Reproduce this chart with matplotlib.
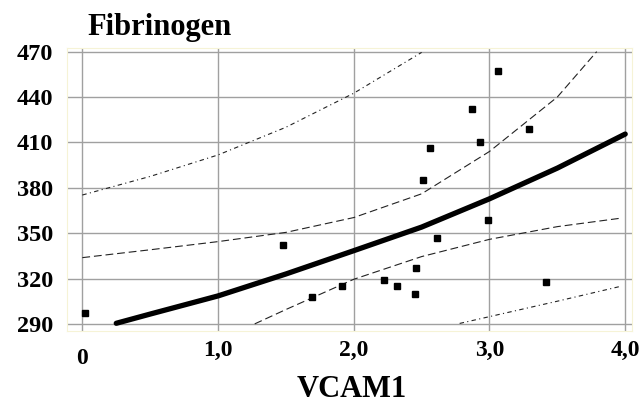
import matplotlib
matplotlib.use("Agg")
import matplotlib.pyplot as plt

# scatter points
vcam1 = [0.02, 1.48, 1.69, 1.91, 2.22, 2.32, 2.45, 2.46, 2.51, 2.56, 2.61,
         2.87, 2.93, 2.99, 3.06, 3.29, 3.42]
fibrinogen = [297, 342, 308, 315, 319, 315, 310, 327, 385, 406, 347,
              432, 410, 359, 457, 419, 318]

# regression curve
fit_x = [0.25, 0.5, 1.0, 1.5, 2.0, 2.5, 3.0, 3.5, 4.0]
fit_y = [290.4, 296.5, 308.5, 323.0, 338.4, 354.0, 372.7, 393.0, 415.5]

# inner band (long dashes)
inner_up_x = [0.0, 0.5, 1.0, 1.5, 2.0, 2.5, 3.0, 3.5, 3.79]
inner_up_y = [333.8, 339.0, 344.4, 350.5, 360.3, 376.0, 404.0, 440.0, 470.0]
inner_lo_x = [1.27, 1.5, 2.0, 2.5, 3.0, 3.5, 3.96]
inner_lo_y = [290.0, 299.5, 319.5, 334.5, 345.9, 354.3, 359.8]

# outer band (dash-dot)
outer_up_x = [0.0, 0.5, 1.0, 1.5, 2.0, 2.5]
outer_up_y = [375.2, 387.5, 401.7, 420.0, 442.5, 469.5]
outer_lo_x = [2.78, 3.0, 3.5, 3.96]
outer_lo_y = [290.3, 294.8, 305.0, 314.7]

xticks = [0, 1, 2, 3, 4]
xtick_labels = ["0", "1,0", "2,0", "3,0", "4,0"]
yticks = [290, 320, 350, 380, 410, 440, 470]

plt.rcParams['font.family'] = ['Liberation Serif', 'DejaVu Serif']
plt.rcParams['font.weight'] = 'bold'

fig = plt.figure(figsize=(6.4, 4.05), dpi=100)
ax = fig.add_axes([67 / 640, 1 - 331 / 405, 565 / 640, 283 / 405])
ax.set_xlim(-0.113, 4.05)
ax.set_ylim(285.3, 472.4)

ax.set_xticks(xticks)
ax.set_xticklabels(xtick_labels, fontsize=17, fontweight='bold')
ax.set_yticks(yticks)
ax.set_yticklabels([str(v) for v in yticks], fontsize=17.5, fontweight='bold')
ax.tick_params(axis='both', length=0)
ax.tick_params(axis='x', pad=6.5)
ax.tick_params(axis='y', pad=10)
ax.xaxis.get_major_ticks()[0].set_pad(12)

ax.grid(True, color='#a0a0a0', lw=1)
ax.set_axisbelow(True)
for s in ax.spines.values():
    s.set_color('#f6f3d6')
    s.set_linewidth(0.8)

lc = '#222222'
ax.plot(outer_up_x, outer_up_y, color=lc, lw=0.8, dashes=(4, 3, 1, 3))
ax.plot(outer_lo_x, outer_lo_y, color=lc, lw=0.8, dashes=(4, 3, 1, 3))
ax.plot(inner_up_x, inner_up_y, color=lc, lw=0.8, dashes=(7, 3.5))
ax.plot(inner_lo_x, inner_lo_y, color=lc, lw=0.8, dashes=(7, 3.5))
ax.plot(fit_x, fit_y, color='black', lw=3.8, solid_capstyle='round')
ax.plot(vcam1, fibrinogen, 's', color='black', ms=4.3, clip_on=False)

fig.text(87 / 640, 1 - 35 / 405, "Fibrinogen", fontsize=22,
         fontweight='bold', va='baseline', ha='left')
fig.text(352 / 640, 1 - 397 / 405, "VCAM1", fontsize=22,
         fontweight='bold', va='baseline', ha='center')

fig.savefig("out.png", dpi=100)
